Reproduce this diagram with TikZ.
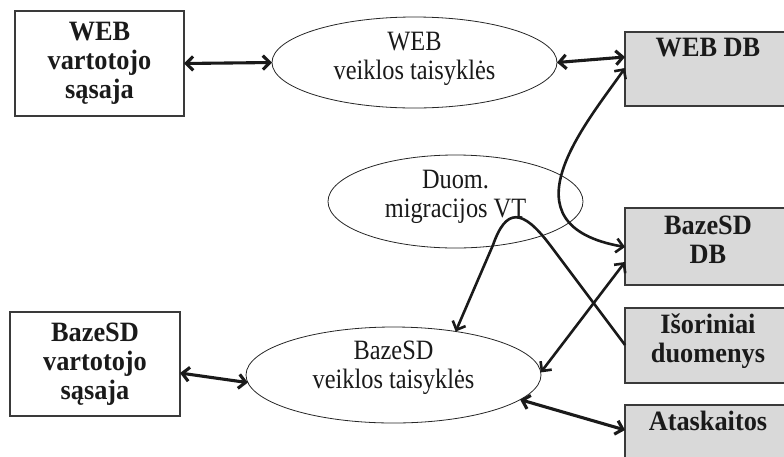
\documentclass[tikz,border=0pt]{standalone}
\usepackage{fontspec}
\setmainfont{Liberation Serif}
\newfontfamily\rulefont{Liberation Serif}[FakeStretch=0.87]
\newfontfamily\boxfont{Liberation Serif}[FakeStretch=0.94]
\usetikzlibrary{arrows.meta,shapes.geometric}
\definecolor{ink}{HTML}{1A1A1A}
\definecolor{edge}{HTML}{3A3A3A}
\definecolor{dbgray}{HTML}{D9D9D9}
\begin{document}
\begin{tikzpicture}[x=1pt,y=-1pt,
  every node/.style={inner sep=0pt, outer sep=0pt},
  lbl/.style={font=\rulefont\fontsize{28}{29}\selectfont, text=ink, align=center},
  lblb/.style={font=\boxfont\bfseries\fontsize{28}{29}\selectfont, text=ink, align=center},
  uibox/.style={rectangle, draw=edge, line width=1.1pt, fill=white},
  dbbox/.style={rectangle, draw=edge, line width=1.1pt, fill=dbgray, minimum width=166pt},
  rule/.style={ellipse, draw=black!85, line width=0.8pt, fill=white},
  link/.style={draw=ink, line width=3.1pt, >={Straight Barb[length=7pt,width=14pt]}},
  flow/.style={link, line width=2.6pt},
]
\useasboundingbox (0,0) rectangle (784,456);
\clip (0,0) rectangle (784,456);

% user interfaces
\node[uibox, lblb, minimum width=169pt, minimum height=105pt] (webui) at (99.5,63.5) {WEB\\vartotojo\\sąsaja};
\node[uibox, lblb, minimum width=170pt, minimum height=104pt] (bazeui) at (95,364) {BazeSD\\vartotojo\\sąsaja};

% business rule layers
\node[rule, minimum width=285pt, minimum height=91pt] (webvt) at (414.5,62.5) {};
\node[lbl] (webvtlbl) at ([yshift=4pt]webvt.center) {WEB\\veiklos taisyklės};
\node[rule, minimum width=255pt, minimum height=93pt] (migr) at (455.5,201.5) {};
\node[lbl] (migrlbl) at ([yshift=5pt]migr.center) {Duom.\\migracijos VT};
\node[rule, minimum width=295pt, minimum height=96pt] (bazevt) at (393.5,375) {};
\node[lbl] (bazevtlbl) at ([yshift=7pt]bazevt.center) {BazeSD\\veiklos taisyklės};

% data stores
\node[dbbox, minimum height=74pt] (webdb) at (708,69) {};
\node[lblb, anchor=north] (webdblbl) at ([yshift=-6pt]webdb.north) {WEB DB};
\node[dbbox, minimum height=77pt] (bazedb) at (708,246.5) {};
\node[lblb, anchor=north] (bazedblbl) at ([yshift=-8pt]bazedb.north) {BazeSD\\DB};
\node[dbbox, minimum height=75pt] (isor) at (708,345.5) {};
\node[lblb, anchor=north] (isorlbl) at ([yshift=-6pt]isor.north) {Išoriniai\\duomenys};
\node[dbbox, minimum height=74pt] (atask) at (708,442) {};
\node[lblb, anchor=north] (ataskl) at ([yshift=-6pt]atask.north) {Ataskaitos};

% connectors
\draw[link, <->] (webui.east) -- (webvt.west);
\draw[link, <->] (webvt.east) -- ([yshift=-25pt]webdb.north west);
\draw[flow, <->] ([yshift=-36pt]webdb.north west)
  .. controls (585,125) and (500,225) .. ([yshift=-39pt]bazedb.north west);
\draw[flow, ->] ([yshift=-37pt]isor.north west) -- (550,245)
  .. controls (522,208) and (506,208) .. (493,245) -- (bazevt.35);
\draw[flow, <->] ([yshift=-54pt]bazedb.north west) -- (bazevt.1);
\draw[link, <->] ([yshift=-9pt]bazeui.east) -- (bazevt.183);
\draw[link, <->] (bazevt.349) -- ([yshift=-25pt]atask.north west);
\end{tikzpicture}
\end{document}
